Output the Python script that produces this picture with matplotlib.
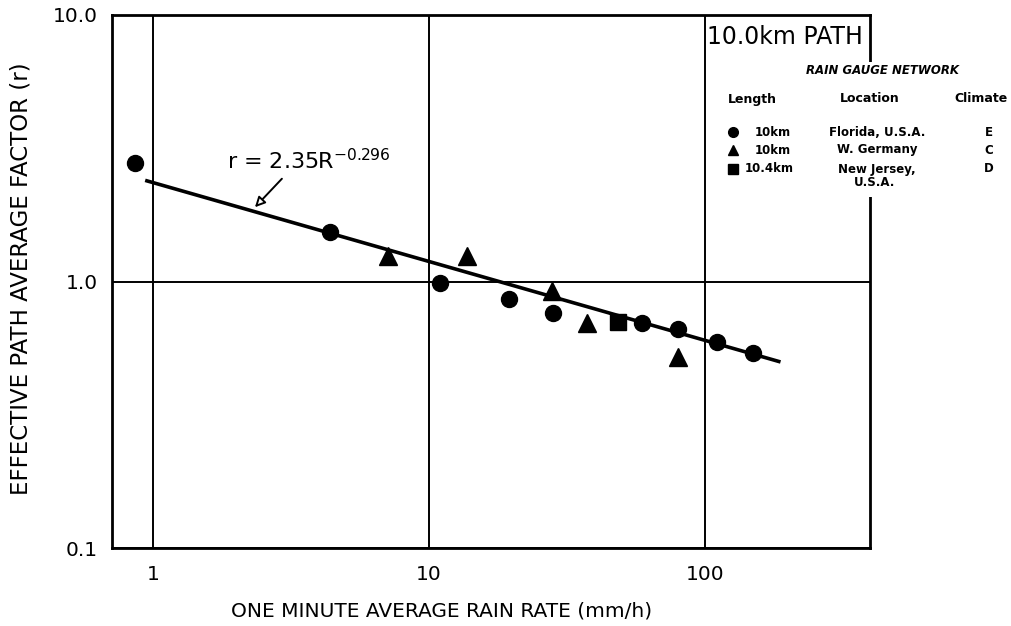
import matplotlib
matplotlib.use('Agg')
import matplotlib.pyplot as plt
from matplotlib.patches import Rectangle, FancyArrowPatch
import numpy as np

plt.rcParams['font.family'] = ['DejaVu Sans']
plt.rcParams['mathtext.default'] = 'regular'

# rain gauge network data
florida_R = [0.86, 4.38, 11.0, 19.5, 28.1, 59.1, 79.8, 110.5, 149]
florida_r = [2.79, 1.53, 0.99, 0.856, 0.759, 0.696, 0.661, 0.591, 0.538]

germany_R = [7.1, 13.7, 27.9, 37.4, 79.8]
germany_r = [1.25, 1.25, 0.925, 0.696, 0.519]

jersey_R = [48.4]
jersey_r = [0.702]

# fitted power law r = 2.35 R^-0.296
fit_a = 2.35
fit_b = -0.296
fit_range = [0.95, 185]

W, H = 1011, 626
fig = plt.figure(figsize=(W / 100, H / 100), dpi=100)
ax = fig.add_axes([112 / W, 1 - 548 / H, (870 - 112) / W, (548 - 15) / H])

ax.set_xscale('log')
ax.set_yscale('log')
ax.set_xlim(0.71, 396)
ax.set_ylim(0.1, 10)

ax.set_xticks([1, 10, 100])
ax.set_xticklabels(['1', '10', '100'])
ax.set_yticks([0.1, 1, 10])
ax.set_yticklabels(['0.1', '1.0', '10.0'])
ax.minorticks_off()
ax.tick_params(axis='x', length=0, pad=12, labelsize=14.5)
ax.tick_params(axis='y', length=0, pad=10, labelsize=14.5)
ax.grid(True, which='major', color='black', linewidth=1.4)
for s in ax.spines.values():
    s.set_linewidth(2)

ax.set_xlabel('ONE MINUTE AVERAGE RAIN RATE (mm/h)', fontsize=14.5)
ax.set_ylabel('EFFECTIVE PATH AVERAGE FACTOR (r)', fontsize=16.5)
ax.xaxis.set_label_coords(0.435, -0.101)
ax.yaxis.set_label_coords(-0.1055, 0.505)

# fit line
R = np.logspace(np.log10(fit_range[0]), np.log10(fit_range[1]), 50)
ax.plot(R, fit_a * R ** fit_b, color='black', linewidth=2.6, zorder=3)

ax.plot(florida_R, florida_r, 'o', color='black', markersize=11.5, zorder=4)
ax.plot(germany_R, germany_r, '^', color='black', markersize=13, zorder=4)
ax.plot(jersey_R, jersey_r, 's', color='black', markersize=11, zorder=4)

ax.text(1.85, 2.63, r'r = 2.35R$^{-0.296}$', fontsize=16, va='baseline')
arr = FancyArrowPatch((2.93, 2.43), (2.34, 1.9), arrowstyle='-|>', mutation_scale=15,
                      shrinkA=0, shrinkB=0, color='black', linewidth=1.4, zorder=5)
arr.set_facecolor('white')
ax.add_patch(arr)

# path label in the top right cell
ax.text(101.5, 9.2, '10.0km PATH', fontsize=17, va='top', ha='left')


def fx(px):
    return px / W


def fy(py):
    return 1 - py / H


# blank out the right spine behind the key
fig.patches.append(Rectangle((fx(862), fy(197)), 14 / W, 135 / H, transform=fig.transFigure,
                             facecolor='white', edgecolor='none', zorder=2))

fig.text(fx(882), fy(71), 'RAIN GAUGE NETWORK', fontsize=8.5, fontweight='bold',
         fontstyle='italic', ha='center', va='center')
fig.text(fx(728), fy(99), 'Length', fontsize=9, fontweight='bold', ha='left', va='center')
fig.text(fx(870), fy(99), 'Location', fontsize=9, fontweight='bold', ha='center', va='center')
fig.text(fx(981), fy(99), 'Climate', fontsize=9, fontweight='bold', ha='center', va='center')

rows_y = [132, 150, 169]
markers = ['o', '^', 's']
lengths = ['10km', '10km', '10.4km']
length_x = [755, 755, 745]
locations = ['Florida, U.S.A.', 'W. Germany', 'New Jersey,']
climates = ['E', 'C', 'D']
for y, m, l, lx, loc, c in zip(rows_y, markers, lengths, length_x, locations, climates):
    fig.lines.append(plt.Line2D([fx(733)], [fy(y)], marker=m, color='black', markersize=7,
                                transform=fig.transFigure))
    fig.text(fx(lx), fy(y), l, fontsize=8.5, fontweight='bold', ha='left', va='center')
    fig.text(fx(877), fy(y), loc, fontsize=8.5, fontweight='bold', ha='center', va='center')
    fig.text(fx(989), fy(y), c, fontsize=8.5, fontweight='bold', ha='center', va='center')
fig.text(fx(875), fy(182), 'U.S.A.', fontsize=8.5, fontweight='bold', ha='center', va='center')

fig.savefig('out.png', dpi=100)
